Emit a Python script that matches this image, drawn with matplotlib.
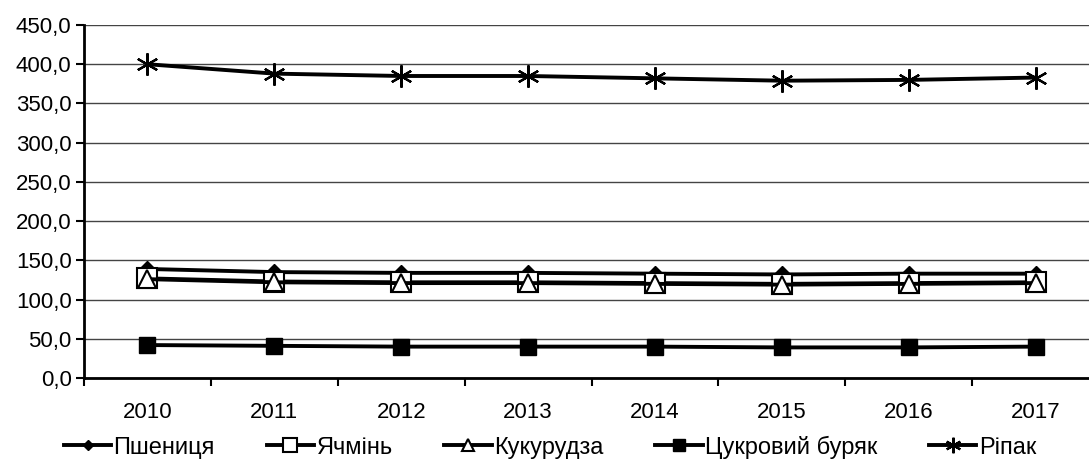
import matplotlib.pyplot as plt
from matplotlib.ticker import FixedLocator, FuncFormatter

plt.rcParams['font.family'] = ['Liberation Sans', 'DejaVu Sans']

years = ['2010', '2011', '2012', '2013', '2014', '2015', '2016', '2017']
wheat = [139, 135, 134, 134, 133, 132, 133, 133]
barley = [127, 123, 122, 122, 121, 120, 121, 122]
corn = [126, 122, 121, 121, 120, 119, 120, 121]
beet = [42, 41, 40, 40, 40, 39, 39, 40]
rapeseed = [400, 388, 385, 385, 382, 379, 380, 383]

fig = plt.figure(figsize=(10.89, 4.71), dpi=100)
# plot area is cut off at the right edge in the original
ax = fig.add_axes([84 / 1089, 93 / 471, 1015 / 1089, 353 / 471])

x = list(range(len(years)))
lw = 2.8
ax.plot(x, wheat, color='black', lw=lw, marker='D', ms=8, mfc='black', mec='black', label='Пшениця')
ax.plot(x, barley, color='black', lw=lw, marker='s', ms=15, mfc='white', mec='black', mew=1.5, label='Ячмінь')
ax.plot(x, corn, color='black', lw=lw, marker='^', ms=13, mfc='white', mec='black', mew=1.5, label='Кукурудза')
ax.plot(x, beet, color='black', lw=lw, marker='s', ms=12, mfc='black', mec='black', label='Цукровий буряк')
ax.plot(x, rapeseed, color='black', lw=lw, marker=(6, 2, 0), ms=16, mec='black', mew=1.6, label='Ріпак')

ax.set_xlim(-0.5, len(years) - 0.5)
ax.set_ylim(0, 450)
ax.set_yticks(range(0, 451, 50))
ax.yaxis.set_major_formatter(FuncFormatter(lambda v, p: f'{v:.1f}'.replace('.', ',')))
ax.grid(axis='y', color='#444444', lw=1)
ax.set_axisbelow(True)

# ticks between categories, labels at category centers
ax.xaxis.set_major_locator(FixedLocator([i - 0.5 for i in range(len(years) + 1)]))
ax.xaxis.set_major_formatter(FuncFormatter(lambda v, p: ''))
ax.xaxis.set_minor_locator(FixedLocator(x))
ax.set_xticklabels(years, minor=True)
ax.tick_params(axis='x', which='major', length=6, width=1.5, direction='out')
ax.tick_params(axis='x', which='minor', length=0, pad=17, labelsize=16)
ax.tick_params(axis='y', length=6, width=1.5, labelsize=16, pad=3)

for s in ['top', 'right']:
    ax.spines[s].set_visible(False)
for s in ['left', 'bottom']:
    ax.spines[s].set_linewidth(2)
    ax.spines[s].set_color('black')

leg = fig.legend(loc='center', bbox_to_anchor=(0.505, 24 / 471), ncol=5, frameon=False,
                 fontsize=17, handlelength=2.0, handletextpad=0.1, columnspacing=2.2, markerscale=0.7)

fig.savefig('out.png', dpi=100)
